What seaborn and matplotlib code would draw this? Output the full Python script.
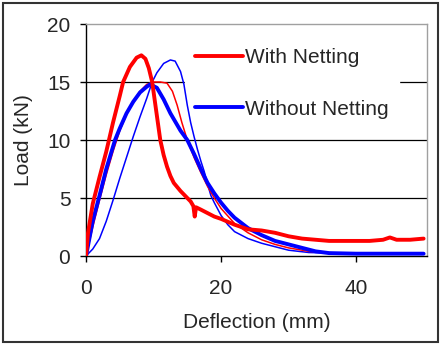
import matplotlib
matplotlib.use("Agg")
import matplotlib.pyplot as plt
import seaborn as sns
from matplotlib.patches import Rectangle
from matplotlib.lines import Line2D

sns.set_style("white")
plt.rcParams["font.family"] = ["Liberation Sans", "DejaVu Sans"]

# With Netting, test 1 (thick red)
with1_x = [0, 0.3, 1, 2, 3, 3.4, 4, 5, 5.5, 6.5, 7.5, 8.2, 8.8, 9.3, 9.8, 10.4, 11, 11.5, 12,
           12.5, 13, 14, 15, 15.5, 15.9, 16.1, 16.3, 17, 18, 19, 20, 22, 24, 26, 28, 30, 32,
           34, 36, 38, 40, 42, 44, 45, 46, 48, 50]
with1_y = [0, 2, 4.5, 6.8, 9.0, 10, 11.5, 13.8, 15, 16.3, 17.1, 17.3, 17.0, 16.2, 15, 12.5, 10,
           8.7, 7.7, 6.9, 6.3, 5.6, 5.0, 4.7, 4.3, 3.4, 4.2, 4.0, 3.7, 3.4, 3.2, 2.7, 2.3, 2.2,
           2.0, 1.7, 1.5, 1.4, 1.3, 1.3, 1.3, 1.3, 1.4, 1.6, 1.4, 1.4, 1.5]

# With Netting, test 2 (thin red)
with2_x = [0, 1, 2, 3, 4, 5, 6, 7, 8, 9, 10, 11, 12, 12.8, 13.5, 14.2, 15, 16, 17, 18, 19, 20,
           22, 24, 26, 28, 30, 33, 36]
with2_y = [0, 2.5, 4.8, 7, 9, 10.8, 12.2, 13.3, 14.2, 14.8, 15.0, 15.0, 14.9, 14.2, 13.0, 11.5,
           10, 8.5, 7.2, 6.0, 5.0, 4.1, 2.8, 2.0, 1.4, 1.0, 0.7, 0.4, 0.3]

# Without Netting, test 1 (thick blue)
wo1_x = [0, 0.5, 1, 2, 3, 4.3, 5, 6, 7, 8, 9, 9.5, 10.5, 11.5, 12.5, 14, 15, 16, 17, 18, 19, 20,
         21, 22, 24, 26, 28, 30, 32, 34, 36, 40, 45, 50]
wo1_y = [0, 1.5, 3, 5.2, 7.5, 10, 11, 12.3, 13.3, 14.1, 14.6, 14.8, 14.5, 13.5, 12.3, 10.8, 10,
         8.8, 7.5, 6.3, 5.4, 4.6, 3.9, 3.3, 2.4, 1.8, 1.3, 1.0, 0.7, 0.4, 0.25, 0.2, 0.2, 0.2]

# Without Netting, test 2 (thin blue)
wo2_x = [0, 1, 2, 3, 4, 5, 6, 7, 8, 9, 9.8, 10.5, 11.5, 12.5, 13.2, 14, 14.5, 15, 15.5, 16,
         16.5, 17, 17.5, 18, 18.5, 19, 20, 21, 22, 24, 26, 28, 30, 33, 40, 50]
wo2_y = [0, 0.6, 1.5, 3.0, 4.8, 6.7, 8.5, 10.3, 12, 13.6, 15, 15.8, 16.6, 16.9, 16.8, 15.9, 14.8,
         13.0, 11.5, 10.3, 9.2, 8.2, 7.3, 6.2, 5.2, 4.6, 3.5, 2.7, 2.1, 1.5, 1.1, 0.8, 0.5, 0.3,
         0.2, 0.2]

red = "#ff0000"
blue = "#0000ff"
fs = 15

fig = plt.figure(figsize=(4.41, 3.45), dpi=100)
ax = fig.add_axes([86 / 441, 89 / 345, 341 / 441, 232 / 345])

sns.lineplot(x=wo2_x, y=wo2_y, ax=ax, color=blue, linewidth=1.1, sort=False, estimator=None, zorder=3)
sns.lineplot(x=with2_x, y=with2_y, ax=ax, color=red, linewidth=1.1, sort=False, estimator=None, zorder=3)
sns.lineplot(x=wo1_x, y=wo1_y, ax=ax, color=blue, linewidth=2.8, sort=False, estimator=None, zorder=3)
sns.lineplot(x=with1_x, y=with1_y, ax=ax, color=red, linewidth=2.8, sort=False, estimator=None, zorder=3)

ax.set_xlim(0, 50.5)
ax.set_ylim(0, 20)
ax.set_xticks([0, 20, 40])
ax.set_yticks([0, 5, 10, 15, 20])
for v in [5, 10, 15]:
    ax.axhline(v, color="black", linewidth=0.9, zorder=0)

ax.spines["left"].set_color("black")
ax.spines["bottom"].set_color("black")
ax.spines["top"].set_color("#a0a0a0")
ax.spines["right"].set_color("#a0a0a0")
for s in ax.spines.values():
    s.set_linewidth(1.0)
ax.tick_params(axis="both", direction="out", length=4.3, width=1, color="black",
               labelsize=fs, left=True, bottom=True)
ax.tick_params(axis="y", pad=7)
ax.tick_params(axis="x", pad=12)

ax.set_xlabel("Deflection (mm)", fontsize=fs, labelpad=11)
ax.set_ylabel("Load (kN)", fontsize=fs, labelpad=10)

handles = [Line2D([], [], color=red, linewidth=2.8), Line2D([], [], color=blue, linewidth=2.8)]
leg = ax.legend(handles, ["With Netting", "Without Netting"], loc="upper left",
                bbox_to_anchor=(0.29, 0.94), borderaxespad=0, borderpad=0.5,
                handlelength=2.3, handletextpad=0.1, labelspacing=1.55,
                fontsize=fs, frameon=True, fancybox=False)
leg.get_frame().set_edgecolor("white")
leg.get_frame().set_facecolor("white")
leg.get_frame().set_alpha(1)
leg.set_zorder(1)

fig.patches.append(Rectangle((3 / 441, 3 / 345), 435 / 441, 339 / 345, transform=fig.transFigure,
                             fill=False, edgecolor="#333333", linewidth=1.5))

fig.savefig("out.png", dpi=100)
